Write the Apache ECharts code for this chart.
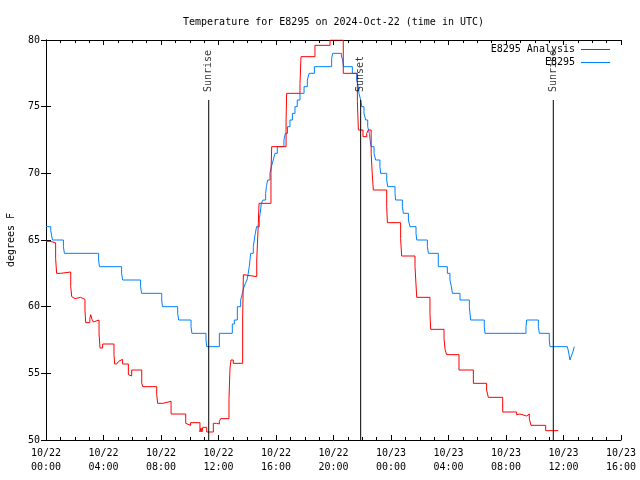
<!DOCTYPE html>
<html><head><meta charset="utf-8">
<script src="https://cdn.jsdelivr.net/npm/echarts@6/dist/echarts.min.js"></script>
<style>html,body{margin:0;padding:0;background:#fff}#c{width:640px;height:480px}</style>
</head><body><div id="c"></div>
<script>
const titleText = 'Temperature for E8295 on 2024-Oct-22 (time in UTC)';
const xTickLabels = ['10/22\n00:00','10/22\n04:00','10/22\n08:00','10/22\n12:00','10/22\n16:00','10/22\n20:00','10/23\n00:00','10/23\n04:00','10/23\n08:00','10/23\n12:00','10/23\n16:00'];
const yTickValues = [50,55,60,65,70,75,80];
const seriesNames = ['E8295 Analysis','E8295'];

// observations (hours since 10/22 00:00 UTC, deg F)
const obsHours = [0.0,0.33,0.45,1.21,1.28,3.66,3.72,5.26,5.33,6.58,6.65,8.05,8.1,9.16,9.23,10.09,10.15,11.13,11.18,12.06,12.96,13.1,13.31,13.54,13.66,13.75,13.87,13.98,14.07,14.14,14.19,14.24,14.42,14.49,14.56,14.65,14.84,14.9,14.98,15.1,15.28,15.33,15.42,15.58,15.68,15.81,15.93,16.09,16.55,16.65,16.8,16.97,17.14,17.32,17.48,17.67,17.95,18.18,18.3,18.67,19.87,19.94,20.55,20.64,20.69,21.31,21.61,21.73,21.77,21.89,21.96,22.12,22.24,22.38,22.49,22.61,22.82,22.93,23.23,23.28,23.7,23.77,24.28,24.32,24.79,24.86,25.21,25.32,25.74,25.79,26.53,26.6,27.29,27.92,28.1,28.2,28.27,28.8,29.45,29.54,30.49,30.54,33.39,33.44,34.25,34.32,35.01,35.06,36.27,36.35,36.45,36.55,36.65,36.75];
const obsTemps = [66.0,65.7,65.0,64.5,64.0,63.5,63.0,62.5,62.0,61.5,61.0,60.5,60.0,59.5,59.0,58.5,58.0,57.5,57.0,58.0,58.7,59.0,60.0,60.5,61.0,61.4,61.75,62.0,62.5,63.0,63.5,64.0,64.5,65.0,65.5,66.0,66.6,67.0,67.75,68.0,68.5,69.0,69.5,70.0,70.5,71.0,71.5,72.0,72.5,73.0,73.5,74.0,74.5,75.0,75.5,76.0,76.5,77.0,77.5,78.0,78.6,79.0,78.8,78.5,78.0,77.5,77.0,76.5,76.0,75.5,75.0,74.5,74.0,73.5,73.0,72.0,71.5,71.0,70.5,70.0,69.5,69.0,68.5,68.0,67.5,67.0,66.5,66.0,65.5,65.0,64.5,64.0,63.0,62.5,62.0,61.5,61.0,60.5,60.0,59.0,58.5,58.0,58.5,59.0,58.5,58.0,57.5,57.0,57.0,56.6,56.0,56.3,56.6,57.0];

// analysis
const anaHours = [0.0,0.28,0.67,0.74,1.02,1.72,1.79,1.9,2.02,2.41,2.71,2.76,3.05,3.11,3.2,3.3,3.41,3.69,3.76,3.94,4.73,4.78,4.92,5.05,5.15,5.33,5.73,5.85,5.96,6.66,6.73,7.7,7.77,8.12,8.7,9.72,9.79,10.06,10.71,10.78,10.85,10.9,11.18,11.64,11.87,12.06,12.15,12.73,12.8,12.87,13.03,13.68,13.73,13.84,14.66,14.77,14.82,15.65,15.7,16.7,16.74,17.67,17.74,18.71,19.76,20.68,21.66,21.73,22.05,22.31,22.42,22.62,22.7,22.77,23.7,23.75,24.67,24.74,25.67,25.79,26.71,26.76,27.69,27.76,27.87,28.73,29.73,30.65,30.77,31.77,32.74,32.85,32.97,33.44,33.62,33.74,34.76,35.64];
const anaTemps = [64.9,64.8,63.6,62.5,62.6,61.5,60.75,60.6,60.7,60.55,59.75,58.8,59.1,59.4,59.05,58.85,59.0,57.95,56.9,57.2,56.4,55.7,55.6,55.9,56.05,55.7,54.9,54.8,55.25,54.25,54.0,53.4,52.75,52.9,51.95,51.25,51.1,51.3,50.6,50.9,50.6,50.95,50.6,51.25,51.2,51.4,51.6,53.1,55.4,56.0,55.75,59.0,62.4,62.25,63.5,66.25,67.75,70.0,72.0,74.0,76.0,76.75,78.75,79.6,80.0,77.5,75.4,73.25,72.75,73.0,73.25,71.5,69.875,68.75,67.5,66.3,65.1,63.8,63.0,60.7,59.5,58.3,57.6,56.8,56.4,55.25,54.25,53.75,53.2,52.1,51.9,51.95,51.8,51.95,51.6,51.1,50.7,50.7];

const sunNames = ['Sunrise','Sunset','Sunrise'];
const sunHours = [11.32, 21.89, 35.29];
const sunLineTop = 75.5;
const sunLabelBase = 76.1;

const FONT = 'DejaVu Sans Mono';
const chart = echarts.init(document.getElementById('c'), null, {renderer:'canvas'});

function zip(a,b){return a.map((v,i)=>[v,b[i]]);}

const series = [
  {name:seriesNames[0], type:'line', step:'end', data:zip(anaHours,anaTemps), symbol:'none',
   lineStyle:{color:'#ff0000', width:1}, itemStyle:{color:'#ff0000'}, z:3},
  {name:seriesNames[1], type:'line', step:'end', data:zip(obsHours,obsTemps), symbol:'none',
   lineStyle:{color:'#0080ff', width:1}, itemStyle:{color:'#0080ff'}, z:2}
];
sunHours.forEach((h,i)=>{
  series.push({type:'line', data:[[h,50],[h,sunLineTop]], symbol:'none', lineStyle:{color:'#000',width:1}, z:4, silent:true});
  series.push({type:'scatter', data:[[h,sunLabelBase]], symbolSize:0, silent:true, z:5,
    label:{show:true, position:'inside', formatter:sunNames[i], rotate:90, align:'left', verticalAlign:'middle', color:'#000', fontFamily:FONT, fontSize:10}});
});

const axisBase = {
  axisLine:{show:true, lineStyle:{color:'#000', width:1}},
  splitLine:{show:false}
};

chart.setOption({
  animation:false,
  backgroundColor:'#fff',
  title:{text:titleText, left:178, top:12, textStyle:{fontFamily:FONT, fontSize:10, fontWeight:'normal', color:'#000'}},
  grid:{left:46, right:19, top:40, bottom:40, containLabel:false, outerBoundsMode:'none'},
  xAxis:[
    Object.assign({type:'value', min:0, max:40, interval:4, position:'bottom',
      axisTick:{show:true, inside:true, length:5, lineStyle:{color:'#000'}},
      minorTick:{show:true, splitNumber:4, length:3, lineStyle:{color:'#000'}},
      axisLabel:{formatter:(v)=>xTickLabels[Math.round(v/4)], color:'#000', fontFamily:FONT, fontSize:10, lineHeight:14, margin:6}}, axisBase),
    Object.assign({type:'value', min:0, max:40, interval:4, position:'top',
      axisTick:{show:true, inside:true, length:5, lineStyle:{color:'#000'}},
      minorTick:{show:true, splitNumber:4, length:3, lineStyle:{color:'#000'}},
      axisLabel:{show:false}}, axisBase)
  ],
  yAxis:[
    Object.assign({type:'value', min:50, max:80, interval:5, position:'left',
      name:'degrees F', nameLocation:'middle', nameRotate:90, nameGap:30,
      nameTextStyle:{fontFamily:FONT, fontSize:10, color:'#000'},
      axisTick:{show:true, inside:true, length:5, lineStyle:{color:'#000'}},
      axisLabel:{formatter:(v)=>yTickValues.includes(v)?String(v):'', color:'#000', fontFamily:FONT, fontSize:10, margin:6}}, axisBase),
    Object.assign({type:'value', min:50, max:80, interval:5, position:'right',
      axisTick:{show:true, inside:true, length:5, lineStyle:{color:'#000'}},
      axisLabel:{show:false}}, axisBase)
  ],
  series:series,
  graphic:[
    {type:'text', right:640-575, top:44, style:{text:seriesNames[0], font:'10px "DejaVu Sans Mono"', fill:'#000', textAlign:'right'}},
    {type:'line', shape:{x1:581,y1:49.5,x2:610,y2:49.5}, style:{stroke:'#ff0000', lineWidth:1}},
    {type:'text', right:640-575, top:57, style:{text:seriesNames[1], font:'10px "DejaVu Sans Mono"', fill:'#000', textAlign:'right'}},
    {type:'line', shape:{x1:581,y1:62.5,x2:610,y2:62.5}, style:{stroke:'#0080ff', lineWidth:1}}
  ]
});
</script></body></html>
